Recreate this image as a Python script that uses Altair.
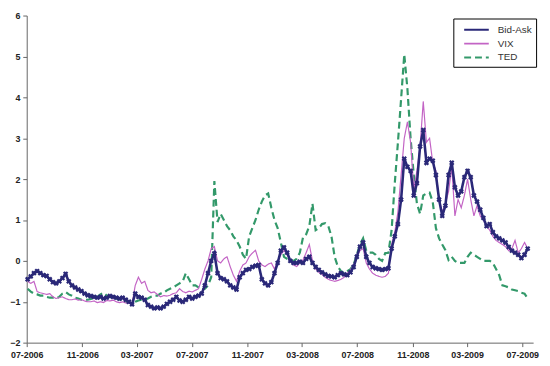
import altair as alt
import pandas as pd

# weekly observation dates (x axis categories)
dates = pd.date_range("2006-07-03", periods=159, freq="7D").strftime("%Y-%m-%dT00:00:00").tolist()

bid_ask = [
    -0.45, -0.38, -0.30, -0.25, -0.30, -0.35, -0.37, -0.45, -0.52, -0.55,
    -0.50, -0.42, -0.32, -0.50, -0.60, -0.65, -0.70, -0.74, -0.80, -0.84,
    -0.86, -0.88, -0.90, -0.88, -0.92, -0.90, -0.86, -0.88, -0.90, -0.92,
    -0.90, -0.95, -1.00, -1.06, -0.80, -0.88, -0.90, -0.95, -1.08, -1.12,
    -1.16, -1.14, -1.16, -1.12, -1.05, -1.00, -0.95, -0.88, -0.97, -1.00,
    -0.95, -0.88, -0.92, -0.88, -0.85, -0.80, -0.60, -0.30, 0.00, 0.18,
    -0.30, -0.42, -0.45, -0.50, -0.60, -0.65, -0.70, -0.40, -0.30, -0.22,
    -0.20, -0.15, -0.12, -0.10, -0.45, -0.55, -0.60, -0.52, -0.30, -0.05,
    0.25, 0.33, 0.20, 0.00, -0.05, -0.05, -0.02, -0.05, 0.05, 0.10,
    -0.05, -0.15, -0.22, -0.28, -0.33, -0.37, -0.38, -0.40, -0.35, -0.30,
    -0.33, -0.35, -0.28, -0.15, 0.10, 0.35, 0.45, 0.10, -0.05, -0.15,
    -0.18, -0.20, -0.22, -0.20, -0.18, 0.30, 0.60, 0.90, 1.50, 2.50,
    2.30, 2.20, 1.60, 1.90, 2.80, 3.20, 2.40, 2.50, 2.45, 2.10,
    1.50, 1.10, 1.35, 2.10, 2.40, 1.80, 1.60, 1.70, 2.05, 2.20,
    2.05, 1.60, 1.45, 1.25, 1.05, 0.85, 0.90, 0.70, 0.60, 0.55,
    0.50, 0.45, 0.34, 0.25, 0.20, 0.15, 0.07, 0.15, 0.30,
]

vix = [
    -0.50, -0.55, -0.50, -0.75, -0.78, -0.80, -0.82, -0.80, -0.88, -0.92,
    -0.90, -0.88, -0.92, -0.95, -0.95, -0.93, -0.96, -0.95, -0.98, -1.00,
    -1.00, -0.98, -1.02, -1.00, -1.02, -0.97, -0.98, -0.96, -1.00, -1.02,
    -1.00, -1.03, -1.04, -1.05, -0.60, -0.40, -0.55, -0.50, -0.72, -0.78,
    -0.76, -0.82, -0.88, -0.85, -0.86, -0.84, -0.80, -0.78, -0.68, -0.75,
    -0.78, -0.74, -0.76, -0.72, -0.68, -0.45, -0.20, 0.00, 0.30, 0.35,
    0.00, -0.05, 0.05, 0.10, -0.14, -0.35, -0.50, -0.25, -0.10, -0.05,
    0.10, 0.19, 0.26, 0.00, -0.10, -0.14, -0.08, -0.05, -0.20, 0.00,
    0.15, 0.26, 0.15, 0.00, -0.10, -0.14, -0.05, 0.02, 0.20, 0.40,
    0.00, -0.20, -0.28, -0.33, -0.40, -0.45, -0.48, -0.50, -0.48, -0.45,
    -0.40, -0.30, -0.22, -0.10, 0.10, 0.25, 0.30, -0.05, -0.20, -0.30,
    -0.35, -0.38, -0.40, -0.38, -0.30, 0.40, 0.70, 1.20, 2.10, 3.00,
    3.40, 2.90, 1.75, 2.20, 2.80, 3.90, 2.90, 3.00, 2.40, 2.20,
    1.50, 1.20, 1.40, 1.70, 2.30, 1.10, 1.50, 1.30, 1.60, 2.00,
    1.50, 1.10, 1.35, 1.10, 1.00, 0.85, 0.75, 0.60, 0.50, 0.45,
    0.40, 0.35, 0.25, 0.30, 0.50, 0.20, 0.30, 0.45, 0.30,
]

ted = [
    -0.68, -0.75, -0.80, -0.82, -0.85, -0.85, -0.88, -0.90, -0.90, -0.92,
    -0.88, -0.80, -0.76, -0.82, -0.85, -0.90, -0.92, -0.95, -0.95, -0.95,
    -0.93, -0.90, -0.88, -0.82, -0.78, -0.85, -0.88, -0.88, -0.92, -0.95,
    -0.95, -1.00, -1.02, -1.05, -1.00, -0.97, -0.95, -0.95, -0.92, -0.88,
    -0.85, -0.85, -0.80, -0.78, -0.72, -0.68, -0.65, -0.60, -0.55, -0.50,
    -0.30, -0.45, -0.60, -0.60, -0.65, -0.70, -0.68, -0.60, -0.40, 1.95,
    0.95, 1.15, 1.00, 0.85, 0.75, 0.60, 0.50, 0.35, 0.15, 0.05,
    0.60, 0.80, 1.00, 1.25, 1.45, 1.60, 1.65, 1.30, 1.00, 0.80,
    0.45, 0.10, 0.05, 0.00, 0.00, 0.05, 0.20, 0.57, 0.65, 0.85,
    1.40, 0.75, 0.80, 0.90, 0.92, 0.85, 0.60, 0.10, -0.14, -0.25,
    -0.30, -0.25, -0.20, -0.10, 0.15, 0.40, 0.55, 0.25, 0.20, 0.20,
    0.15, 0.05, 0.00, 0.19, 0.20, 0.75, 1.90, 2.90, 3.96, 5.05,
    4.20, 3.00, 2.10, 1.40, 1.15, 1.60, 1.65, 1.67, 1.44, 0.80,
    0.55, 0.40, 0.26, 0.02, 0.10, 0.00, -0.05, -0.05, -0.05, 0.10,
    0.20, 0.15, 0.10, 0.05, 0.00, 0.00, 0.00, -0.05, -0.20, -0.35,
    -0.60, -0.62, -0.65, -0.70, -0.72, -0.74, -0.78, -0.80, -0.92,
]

series_names = ["Bid-Ask", "VIX", "TED"]
series_colors = ["#2a2878", "#c364c5", "#33996a"]
series_dash = [[1, 0], [1, 0], [7, 4]]

rows = []
for name, vals in zip(series_names, [bid_ask, vix, ted]):
    for d, v in zip(dates, vals):
        rows.append({"date": d, "value": v, "series": name})
df = pd.DataFrame(rows)

tick_dates = [alt.DateTime(year=y, month=m, date=1) for y, m in
              [(2006, 7), (2006, 11), (2007, 3), (2007, 7), (2007, 11),
               (2008, 3), (2008, 7), (2008, 11), (2009, 3), (2009, 7)]]

x = alt.X("date:T",
          scale=alt.Scale(domain=[alt.DateTime(year=2006, month=7, date=1),
                                  alt.DateTime(year=2009, month=7, date=25)]),
          axis=alt.Axis(values=tick_dates, format="%m-%Y", title=None, grid=False,
                        labelFontSize=9, labelFontWeight="bold", labelColor="#222222",
                        domainColor="#666666", tickColor="#666666", tickSize=4,
                        labelPadding=4, labelFlush=False, labelOverlap=False))
y = alt.Y("value:Q", scale=alt.Scale(domain=[-2, 6], nice=False, zero=False),
          axis=alt.Axis(values=list(range(-2, 7)), format="d", title=None, grid=False,
                        labelFontSize=9, labelFontWeight="bold", labelColor="#222222",
                        domainColor="#666666", tickColor="#666666", tickSize=4,
                        labelPadding=3))

color = alt.Color("series:N",
                  scale=alt.Scale(domain=series_names, range=series_colors),
                  legend=alt.Legend(title=None, orient="none", legendX=433, legendY=3,
                                    symbolType="M-2,0H2", symbolSize=156,
                                    symbolOffset=12,
                                    symbolStrokeWidth=2, labelFontSize=10,
                                    labelFont="Liberation Sans", labelColor="#333333",
                                    strokeColor="black", fillColor="white",
                                    padding=4, rowPadding=1, labelOffset=14,
                                    cornerRadius=0))
dash = alt.StrokeDash("series:N",
                      scale=alt.Scale(domain=series_names, range=series_dash),
                      legend=None)

base = alt.Chart(df)

ted_layer = base.transform_filter(alt.datum.series == "TED").mark_line(
    strokeWidth=2.2).encode(x=x, y=y, color=color, strokeDash=dash)
vix_layer = base.transform_filter(alt.datum.series == "VIX").mark_line(
    strokeWidth=1.2).encode(x=x, y=y, color=color, strokeDash=dash)
ba_layer = base.transform_filter(alt.datum.series == "Bid-Ask").mark_line(
    strokeWidth=2.6).encode(x=x, y=y, color=color, strokeDash=dash)
ba_pts = base.transform_filter(alt.datum.series == "Bid-Ask").mark_point(
    shape="cross", angle=45, size=30, filled=True, opacity=1).encode(
    x=x, y=y, color=alt.Color("series:N", scale=alt.Scale(domain=series_names, range=series_colors), legend=None))

chart = alt.layer(ted_layer, vix_layer, ba_layer, ba_pts).properties(
    width=514, height=332,
    autosize=alt.AutoSizeParams(type="none"),
    padding={"left": 19, "top": 5, "right": 9, "bottom": 19},
).configure_view(stroke=None).configure_axis(labelFont="Liberation Sans")

chart.save("out.html", embed_options={"renderer": "svg", "actions": False})
